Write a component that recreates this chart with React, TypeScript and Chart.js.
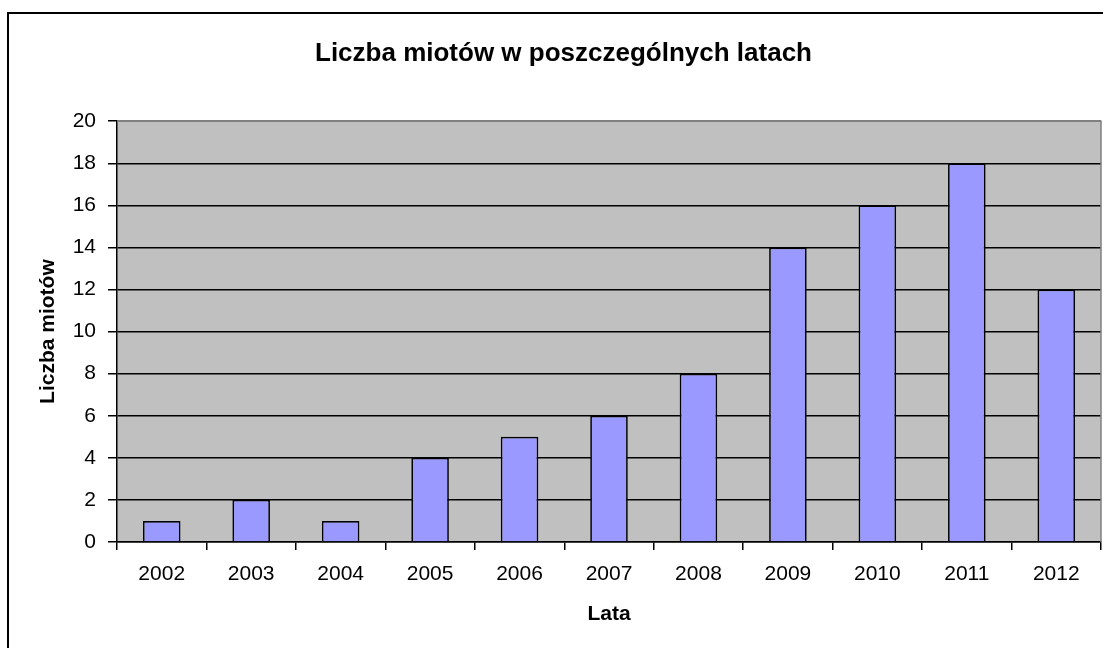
import React, { useEffect, useRef } from "react";
import { Chart, registerables } from "chart.js";

Chart.register(...registerables);

const categories = ["2002", "2003", "2004", "2005", "2006", "2007", "2008", "2009", "2010", "2011", "2012"];
const litters = [1, 2, 1, 4, 5, 6, 8, 14, 16, 18, 12];
const chartTitle = "Liczba miotów w poszczególnych latach";
const yTitle = "Liczba miotów";
const xTitle = "Lata";

const FONT = "'Liberation Sans', Arial, sans-serif";

const framePlugin = {
  id: "frame",
  beforeDraw(chart: any) {
    const { ctx, chartArea } = chart;
    ctx.save();
    ctx.fillStyle = "#ffffff";
    ctx.fillRect(0, 0, chart.width, chart.height);
    ctx.fillStyle = "#c0c0c0";
    ctx.fillRect(chartArea.left, chartArea.top, chartArea.right - chartArea.left, chartArea.bottom - chartArea.top);
    ctx.strokeStyle = "#000000";
    ctx.lineWidth = 2;
    ctx.strokeRect(8, 13, chart.width + 20, chart.height + 20);
    ctx.restore();
  },
  afterDraw(chart: any) {
    const { ctx, chartArea } = chart;
    ctx.save();
    ctx.strokeStyle = "#808080";
    ctx.lineWidth = 1.5;
    ctx.beginPath();
    ctx.moveTo(chartArea.left, chartArea.top);
    ctx.lineTo(chartArea.right, chartArea.top);
    ctx.lineTo(chartArea.right, chartArea.bottom);
    ctx.stroke();
    ctx.restore();
  },
};

export default function App() {
  const ref = useRef<HTMLCanvasElement | null>(null);

  useEffect(() => {
    if (!ref.current) return;
    const chart = new Chart(ref.current, {
      type: "bar",
      data: {
        labels: categories,
        datasets: [
          {
            data: litters,
            backgroundColor: "#9999ff",
            borderColor: "#000000",
            borderWidth: 1.7,
            barPercentage: 0.42,
            categoryPercentage: 1,
          },
        ],
      },
      options: {
        responsive: false,
        animation: false,
        devicePixelRatio: 1,
        layout: { padding: { left: 26, right: 2, top: 0, bottom: 0 } },
        plugins: {
          legend: { display: false },
          tooltip: { enabled: false },
          title: {
            display: true,
            text: chartTitle,
            color: "#000000",
            font: { family: FONT, size: 26, weight: "bold" },
            padding: { top: 38, bottom: 52 },
          },
        },
        scales: {
          x: {
            grid: {
              display: true,
              offset: true,
              drawOnChartArea: false,
              drawTicks: true,
              tickLength: 8,
              color: "#000000",
              lineWidth: 1.5,
            },
            border: { display: true, color: "#000000", width: 1.5 },
            ticks: {
              color: "#000000",
              font: { family: FONT, size: 21 },
              padding: 12,
              maxRotation: 0,
            },
            title: {
              display: true,
              text: xTitle,
              color: "#000000",
              font: { family: FONT, size: 21, weight: "bold" },
              padding: { top: 0, bottom: 21 },
            },
            afterFit(scale: any) {
              scale.height = 106;
            },
          },
          y: {
            min: 0,
            max: 20,
            ticks: {
              stepSize: 2,
              color: "#000000",
              font: { family: FONT, size: 21 },
              padding: 12,
            },
            grid: {
              drawTicks: true,
              tickLength: 9,
              color: (c: any) => (c.tick && c.tick.value === 20 ? "#808080" : "#000000"),
              tickColor: "#000000",
              lineWidth: 1.5,
            },
            border: { display: true, color: "#000000", width: 1.5 },
            title: {
              display: true,
              text: yTitle,
              color: "#000000",
              font: { family: FONT, size: 21, weight: "bold" },
              padding: { top: 10, bottom: 0 },
            },
            afterFit(scale: any) {
              scale.width = 91;
            },
          },
        },
      },
      plugins: [framePlugin],
    });
    return () => chart.destroy();
  }, []);

  return (
    <div style={{ position: "absolute", left: 0, top: 0, width: 1103, height: 648 }}>
      <canvas ref={ref} width={1103} height={648} style={{ display: "block", width: 1103, height: 648 }} />
    </div>
  );
}
